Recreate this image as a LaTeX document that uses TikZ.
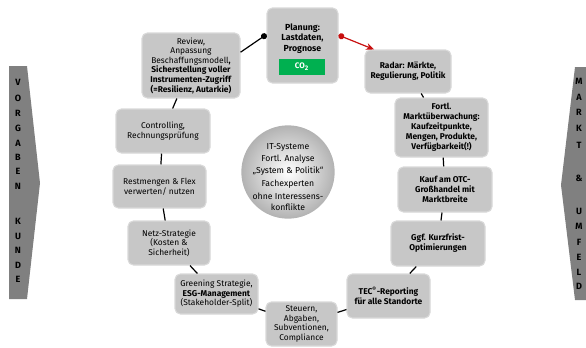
\documentclass[tikz,border=0pt]{standalone}
\usepackage{fontspec}
\setmainfont{Fira Sans}
\usetikzlibrary{arrows.meta,shapes.geometric}

\definecolor{boxgray}{RGB}{199,199,199}
\definecolor{sidegray}{RGB}{128,128,128}
\definecolor{cogreen}{RGB}{0,176,80}
\definecolor{linkred}{RGB}{200,16,16}

\begin{document}
\begin{tikzpicture}[
    x=0.75pt, y=-0.75pt,
    >=Stealth,
    box/.style={draw=black!15, line width=0.8pt, fill=boxgray, rounded corners=4pt, align=center, inner sep=1pt, font=\fontsize{6.3}{7.2}\selectfont},
    bbox/.style={box, font=\bfseries\fontsize{6.3}{7.5}\selectfont},
    link/.style={line width=0.9pt},
    sidetext/.style={font=\bfseries\fontsize{6.8}{6.8}\selectfont, inner sep=0pt}
]
    \useasboundingbox (0,0) rectangle (586,347);

    % --- 1. Seitenpfeile ---
    \fill[sidegray] (9,66) -- (27,66) -- (40,183) -- (27,299) -- (9,299) -- cycle;
    \fill[sidegray] (586,67) -- (575,67) -- (561,185) -- (575,300) -- (586,300) -- cycle;

    \foreach \ch/\y [count=\i] in {V/82.7, O/98.3, R/113.3, G/128.3, A/143.3, B/157.7, E/171.7, N/186.7, K/221.7, U/236, N/250.7, D/265.7, E/279.3}
        \node[sidetext] (kunde\i) at (18,\y) {\ch};
    \foreach \ch/\y [count=\i] in {M/81.7, A/97.3, R/112.7, K/128.3, T/145, \&/178.3, U/211.7, M/226.7, F/242.7, E/257.3, L/272.7, D/286.7}
        \node[sidetext] (markt\i) at (579,\y) {\ch};

    % --- 2. Planung oben ---
    \node[box, minimum width=53.25pt, minimum height=56.25pt] (planung) at (302.5,45.5) {};
    \node[font=\bfseries\fontsize{6.6}{7.9}\selectfont, align=center, inner sep=0pt] (planungtxt) at (302.5,38.5) {Planung:\\Lastdaten,\\Prognose};
    \node[fill=cogreen, text=white, font=\bfseries\fontsize{6}{6}\selectfont, minimum width=34.5pt, minimum height=12pt, inner sep=0pt] (co2) at (302,67) {CO\textsubscript{2}};

    % --- 3. Rechte Seite (Markt) ---
    \node[bbox, minimum width=64.5pt, minimum height=32.25pt] (radar) at (408,71.5) {Radar: Märkte,\\Regulierung, Politik};
    \node[bbox, minimum width=69.75pt, minimum height=44.25pt] (fortl) at (441.5,127.5) {Fortl.\\Marktüberwachung:\\Kaufzeitpunkte,\\Mengen, Produkte,\\Verfügbarkeit(!)};
    \node[bbox, minimum width=70.5pt, minimum height=33.75pt] (kauf) at (445,189.5) {Kauf am OTC-\\Großhandel mit\\Marktbreite};
    \node[bbox, minimum width=70.5pt, minimum height=33.75pt] (ggf) at (438,243.5) {Ggf. Kurzfrist-\\Optimierungen};
    \node[bbox, minimum width=62.25pt, minimum height=33pt] (tec) at (388.5,296) {TEC\textsuperscript{®}-Reporting\\für alle Standorte};

    % --- 4. Unten und linke Seite (Kunde) ---
    \node[box, minimum width=53.25pt, minimum height=33pt] (steuern) at (301.5,324) {Steuern,\\Abgaben,\\Subventionen,\\Compliance};
    \node[box, minimum width=62.25pt, minimum height=30pt] (greening) at (216.5,294) {Greening Strategie,\\\textbf{ESG-Management}\\(Stakeholder-Split)};
    \node[box, minimum width=61.5pt, minimum height=33pt] (netz) at (169,243) {Netz-Strategie\\(Kosten \&\\Sicherheit)};
    \node[box, minimum width=69.75pt, minimum height=32.25pt] (restmengen) at (159.5,186.5) {Restmengen \& Flex\\verwerten/ nutzen};
    \node[box, minimum width=70.5pt, minimum height=33pt] (controlling) at (163,131) {Controlling,\\Rechnungsprüfung};
    \node[box, minimum width=73.5pt, minimum height=48.75pt] (review) at (191,65.5) {Review,\\Anpassung\\Beschaffungsmodell\textbf{,}\\\textbf{Sicherstellung voller}\\\textbf{Instrumenten-Zugriff}\\\textbf{(=Resilienz, Autarkie)}};

    % --- 5. Kreis in der Mitte ---
    \node[circle, minimum size=70pt, inner sep=0pt, shading=radial, inner color=white, outer color=black!30] (itsys) at (288,172) {};
    \node[align=center, inner sep=0pt, font=\fontsize{6.5}{9}\selectfont] (itsystxt) at (288,177) {IT-Systeme\\Fortl. Analyse\\„System \& Politik“\\[1pt]Fachexperten\\[1pt]ohne Interessens-\\[-1pt]konflikte};

    % --- 6. Verbindungen ---
    \draw[link, -{Circle[length=4.5pt]}] (review.15) -- (planung.163);
    \draw[link, linkred, {Circle[length=4.5pt]}-{Stealth[length=6pt, width=5pt]}] (planung.16) -- (radar.147);
    \foreach \a/\b in {radar/fortl, fortl/kauf, kauf/ggf, ggf/tec, tec/steuern, steuern/greening, greening/netz, netz/restmengen, restmengen/controlling, controlling/review}
        \draw[link] (\a) -- (\b);

\end{tikzpicture}
\end{document}
